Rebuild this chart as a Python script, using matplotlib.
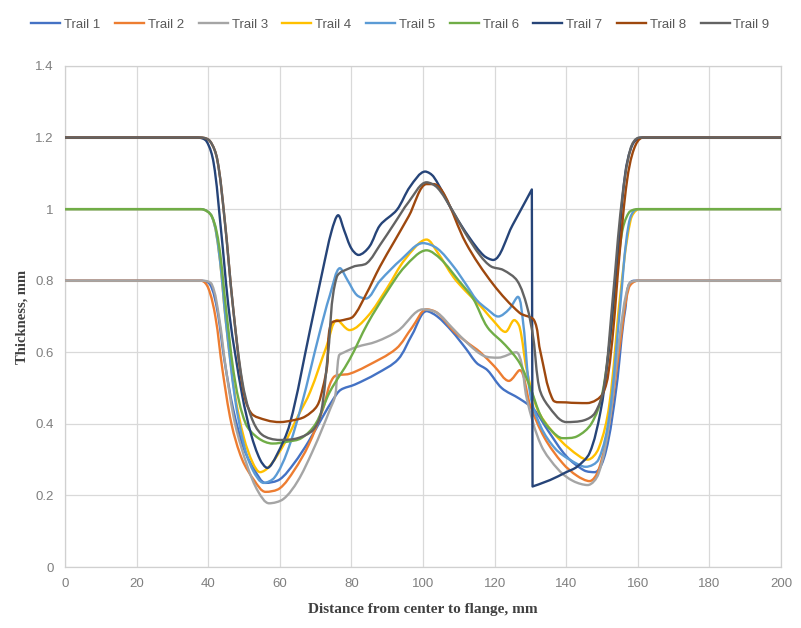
import numpy as np
import matplotlib
matplotlib.use("Agg")
import matplotlib.pyplot as plt
from matplotlib.path import Path
from matplotlib.patches import PathPatch
from matplotlib.lines import Line2D

# ---------------- data ----------------
series_names = ["Trail 1", "Trail 2", "Trail 3", "Trail 4", "Trail 5",
                "Trail 6", "Trail 7", "Trail 8", "Trail 9"]
series_colors = ["#4472C4", "#ED7D31", "#A5A5A5", "#FFC000", "#5B9BD5",
                 "#70AD47", "#264478", "#9E480E", "#636363"]

trail1_x = [0, 38, 40.5, 42.5, 44.5, 47, 50, 53, 56, 60, 64, 68, 72, 75, 77, 81, 87, 93, 97, 101, 104,
            108, 112, 115, 118, 122, 127, 131, 135, 140, 145, 148, 151, 154, 156.5, 159, 200]
trail1_y = [0.8, 0.8, 0.79, 0.72, 0.58, 0.44, 0.33, 0.27, 0.235, 0.245, 0.29, 0.35, 0.42, 0.47, 0.495,
            0.51, 0.54, 0.58, 0.65, 0.715, 0.70, 0.66, 0.61, 0.57, 0.55, 0.50, 0.47, 0.44, 0.38, 0.31,
            0.27, 0.265, 0.32, 0.5, 0.72, 0.8, 0.8]

trail2_x = [0, 38, 40, 42, 44, 46.5, 49.5, 53, 56, 60, 64, 68, 72, 75, 79.5, 84, 92.5, 97, 101, 104,
            108.5, 112, 116, 120, 124, 127, 130, 134, 139, 143, 146.5, 149, 152, 155, 157.5, 160, 200]
trail2_y = [0.8, 0.8, 0.78, 0.70, 0.55, 0.40, 0.30, 0.24, 0.21, 0.22, 0.27, 0.34, 0.44, 0.53, 0.54,
            0.56, 0.61, 0.67, 0.72, 0.71, 0.66, 0.63, 0.60, 0.56, 0.52, 0.55, 0.45, 0.36, 0.29, 0.255,
            0.24, 0.27, 0.4, 0.62, 0.78, 0.8, 0.8]

trail3_x = [0, 38.5, 41, 43, 45, 47.5, 51, 54, 57, 61, 65, 69, 72, 74, 75.5, 76.5, 78, 81.5, 87, 93,
            100, 104, 108, 113, 117, 121, 126, 127.5, 129, 133, 138, 142, 146, 149, 152, 155, 157.5, 160, 200]
trail3_y = [0.8, 0.8, 0.79, 0.70, 0.55, 0.40, 0.28, 0.21, 0.178, 0.19, 0.24, 0.32, 0.39, 0.44, 0.48,
            0.59, 0.60, 0.615, 0.63, 0.66, 0.72, 0.71, 0.67, 0.62, 0.59, 0.585, 0.60, 0.57, 0.47, 0.34,
            0.27, 0.24, 0.229, 0.26, 0.4, 0.65, 0.79, 0.8, 0.8]

trail4_x = [0, 38, 41, 43, 45, 47.5, 50, 52.5, 54.5, 57, 61, 65, 68.5, 73, 76, 79.5, 84.5, 90, 95, 101,
            104, 108.5, 112, 116, 119.5, 123, 125.5, 127, 129, 132, 136, 141, 146, 149, 152, 155, 158,
            160.5, 200]
trail4_y = [1.0, 1.0, 0.98, 0.88, 0.68, 0.48, 0.36, 0.29, 0.265, 0.28, 0.34, 0.42, 0.49, 0.615, 0.69,
            0.662, 0.70, 0.78, 0.86, 0.915, 0.88, 0.81, 0.77, 0.73, 0.69, 0.657, 0.69, 0.67, 0.55, 0.44,
            0.38, 0.33, 0.30, 0.33, 0.45, 0.75, 0.97, 1.0, 1.0]

trail5_x = [0, 38, 41, 43, 45, 47.5, 50, 52.5, 55.5, 58.5, 62, 66, 71, 74, 76.8, 79, 81.5, 84, 88, 94,
            100, 104, 108.5, 112, 115, 118, 121, 124, 126.5, 128, 130, 133, 137, 141, 145.5, 149, 152,
            155, 157.5, 160, 200]
trail5_y = [1.0, 1.0, 0.98, 0.88, 0.68, 0.47, 0.34, 0.27, 0.235, 0.25, 0.32, 0.45, 0.65, 0.76, 0.835,
            0.80, 0.76, 0.75, 0.80, 0.86, 0.905, 0.89, 0.84, 0.79, 0.746, 0.72, 0.70, 0.72, 0.755, 0.68,
            0.48, 0.39, 0.33, 0.30, 0.28, 0.30, 0.42, 0.72, 0.96, 1.0, 1.0]

trail6_x = [0, 38, 41, 43, 45, 47.5, 50.5, 54, 58, 62, 66, 70, 74, 79.5, 84.5, 90, 95, 101, 105, 110,
            114, 118, 123, 127, 130, 133, 136, 139, 143, 147, 150, 153, 155.5, 157.5, 160, 200]
trail6_y = [1.0, 1.0, 0.98, 0.90, 0.72, 0.52, 0.40, 0.36, 0.345, 0.35, 0.36, 0.40, 0.49, 0.58, 0.68,
            0.77, 0.84, 0.885, 0.86, 0.80, 0.75, 0.67, 0.62, 0.57, 0.50, 0.42, 0.38, 0.36, 0.365, 0.40,
            0.48, 0.7, 0.93, 0.99, 1.0, 1.0]

trail7_x = [0, 37, 39.5, 41.5, 43.5, 46, 49.5, 52, 54.5, 56.5, 59, 62.8, 68.4, 72, 74.5, 76.3, 78, 80,
            82, 85, 88, 92.7, 96.4, 100.6, 103, 108.5, 113, 117, 119.6, 125, 130.4, 130.6, 135.5, 140,
            143, 146.5, 149.5, 151.5, 154.5, 156.5, 158.5, 161, 200]
trail7_y = [1.2, 1.2, 1.19, 1.13, 0.95, 0.7, 0.48, 0.37, 0.30, 0.277, 0.31, 0.40, 0.66, 0.83, 0.94,
            0.983, 0.94, 0.89, 0.872, 0.895, 0.955, 0.998, 1.063, 1.105, 1.09, 0.99, 0.92, 0.87, 0.858,
            0.955, 1.055, 0.225, 0.243, 0.265, 0.28, 0.318, 0.43, 0.57, 0.886, 1.1, 1.18, 1.2, 1.2]

trail8_x = [0, 38, 40.5, 42.5, 44.5, 47, 49.7, 52, 56.4, 60, 63.7, 67, 70.4, 72, 73.2, 74.3, 77.7, 80.5,
            84, 88, 92, 96, 101, 103, 106, 112, 119.6, 127, 131, 132.7, 136.3, 140, 145.8, 150.3, 152.5,
            155, 157, 159, 161.5, 200]
trail8_y = [1.2, 1.2, 1.19, 1.14, 0.98, 0.72, 0.5, 0.43, 0.41, 0.405, 0.41, 0.42, 0.45, 0.5, 0.56,
            0.68, 0.69, 0.70, 0.76, 0.84, 0.91, 0.98, 1.07, 1.07, 1.04, 0.905, 0.79, 0.71, 0.69, 0.606,
            0.467, 0.46, 0.458, 0.486, 0.6, 0.886, 1.08, 1.17, 1.2, 1.2]

trail9_x = [0, 38, 40.5, 42.5, 44.5, 47, 49.5, 52, 55, 60, 65, 69.3, 71.5, 73.5, 75.9, 80.5, 84.3, 88,
            92, 96, 101, 104, 108, 112, 116, 119, 122.4, 126.3, 129, 130.8, 132.5, 135, 140, 145, 148,
            150.5, 153, 155.5, 158, 160.5, 200]
trail9_y = [1.2, 1.2, 1.19, 1.14, 0.98, 0.72, 0.52, 0.42, 0.37, 0.355, 0.36, 0.383, 0.43, 0.6, 0.81,
            0.839, 0.849, 0.90, 0.96, 1.02, 1.075, 1.06, 1.0, 0.93, 0.87, 0.84, 0.83, 0.80, 0.73, 0.64,
            0.5, 0.45, 0.405, 0.41, 0.43, 0.5, 0.75, 1.02, 1.17, 1.2, 1.2]

# sharp (unsmoothed) corners, as in the Excel chart (vertical drop of Trail 7)
trail7_corners = [30, 31]

series_x = [trail1_x, trail2_x, trail3_x, trail4_x, trail5_x, trail6_x, trail7_x, trail8_x, trail9_x]
series_y = [trail1_y, trail2_y, trail3_y, trail4_y, trail5_y, trail6_y, trail7_y, trail8_y, trail9_y]
series_corners = [[], [], [], [], [], [], trail7_corners, [], []]

x_ticks = [0, 20, 40, 60, 80, 100, 120, 140, 160, 180, 200]
y_ticks = [0, 0.2, 0.4, 0.6, 0.8, 1.0, 1.2, 1.4]
y_tick_labels = ["0", "0.2", "0.4", "0.6", "0.8", "1", "1.2", "1.4"]


def smooth_path(xs, ys, corners=(), yscale=100.0, s=1.0 / 3.0):
    """Excel-like smoothed line: cubic Bezier through the points (no overshoot at flats)."""
    P = np.column_stack([np.asarray(xs, float), np.asarray(ys, float)])
    Q = P.copy()
    Q[:, 1] *= yscale
    n = len(P)
    verts = [tuple(P[0])]
    codes = [Path.MOVETO]
    corners = set(corners)

    def tangent(i):
        if i in corners or i == 0 or i == n - 1:
            return np.zeros(2)
        t = P[i + 1] - P[i - 1]
        if (P[i, 1] - P[i - 1, 1]) * (P[i + 1, 1] - P[i, 1]) <= 0:
            t = np.array([t[0], 0.0])
        return t

    for i in range(n - 1):
        d01 = np.linalg.norm(Q[i] - Q[i - 1]) if i > 0 else 0.0
        d12 = np.linalg.norm(Q[i + 1] - Q[i])
        d23 = np.linalg.norm(Q[i + 2] - Q[i + 1]) if i + 2 < n else 0.0
        t1 = tangent(i)
        t2 = tangent(i + 1)
        f1 = d12 / (d01 + d12) if (d01 + d12) > 0 else 0
        f2 = d12 / (d12 + d23) if (d12 + d23) > 0 else 0
        c1 = P[i] + t1 * s * f1
        c2 = P[i + 1] - t2 * s * f2
        verts += [tuple(c1), tuple(c2), tuple(P[i + 1])]
        codes += [Path.CURVE4] * 3
    return Path(verts, codes)


plt.rcParams["font.family"] = ["DejaVu Sans"]
fig = plt.figure(figsize=(8.01, 6.28), dpi=100)
ax = fig.add_axes([65 / 801, 61 / 628, 716 / 801, 501 / 628])

handles = []
for xs, ys, cn, name, col in zip(series_x, series_y, series_corners, series_names, series_colors):
    patch = PathPatch(smooth_path(xs, ys, cn), facecolor="none", edgecolor=col, lw=1.7,
                      capstyle="round", joinstyle="round", zorder=3)
    ax.add_patch(patch)
    handles.append(Line2D([0], [0], color=col, lw=1.7, label=name))

ax.set_xlim(0, 200)
ax.set_ylim(0, 1.4)
ax.set_xticks(x_ticks)
ax.set_yticks(y_ticks)
ax.set_yticklabels(y_tick_labels)
ax.grid(True, color="#d9d9d9", lw=0.9, zorder=0)
ax.set_axisbelow(True)
for sp in ax.spines.values():
    sp.set_color("#d0d0d0")
    sp.set_linewidth(0.9)
ax.tick_params(axis="both", length=0, colors="#7f7f7f", labelsize=9.5, pad=8)
for lab in ax.get_xticklabels() + ax.get_yticklabels():
    lab.set_family("Liberation Sans")

ax.set_xlabel("Distance from center to flange, mm", family="Liberation Serif",
              fontweight="bold", fontsize=11, color="#404040", labelpad=9)
ax.set_ylabel("Thickness, mm", family="Liberation Serif", fontweight="bold",
              fontsize=10.5, color="#404040", labelpad=5)

leg = fig.legend(handles=handles, loc="center", bbox_to_anchor=(0.5, 1 - 25 / 628), ncol=9,
                 frameon=False, handlelength=2.2, handletextpad=0.3, columnspacing=1.1,
                 prop={"family": "Liberation Sans", "size": 9.5})
for t in leg.get_texts():
    t.set_color("#595959")

fig.savefig("out.png", dpi=100)
